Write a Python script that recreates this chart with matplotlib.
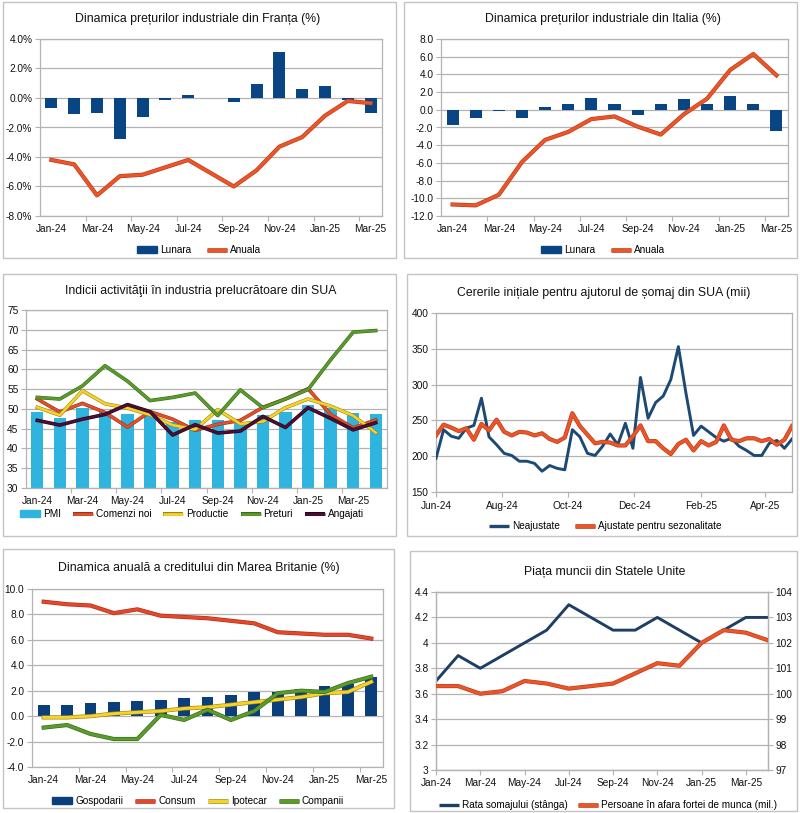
import matplotlib
matplotlib.use('Agg')
import matplotlib.pyplot as plt
import matplotlib.patheffects as pe
import matplotlib.dates as mdates
from matplotlib.patches import Rectangle, Patch
from matplotlib.lines import Line2D
from matplotlib.ticker import FixedLocator, FuncFormatter
import pandas as pd
import numpy as np

plt.rcParams['font.family'] = ['Liberation Sans', 'DejaVu Sans']

# ---------------- DATA ----------------
luni15 = ['Jan-24', 'Feb-24', 'Mar-24', 'Apr-24', 'May-24', 'Jun-24', 'Jul-24', 'Aug-24',
          'Sep-24', 'Oct-24', 'Nov-24', 'Dec-24', 'Jan-25', 'Feb-25', 'Mar-25']
luni16 = luni15 + ['Apr-25']

fr_lunara = [-0.7, -1.1, -1.0, -2.8, -1.3, -0.15, 0.2, 0.0, -0.25, 0.95, 3.1, 0.6, 0.8, -0.15, -1.05]
fr_anuala = [-4.2, -4.5, -6.6, -5.3, -5.2, -4.7, -4.2, -5.1, -6.0, -4.9, -3.3, -2.65, -1.2, -0.2, -0.35]

it_lunara = [-1.7, -0.95, -0.15, -0.9, 0.3, 0.7, 1.3, 0.7, -0.6, 0.7, 1.25, 0.6, 1.6, 0.7, -2.4]
it_anuala = [-10.7, -10.8, -9.6, -5.9, -3.4, -2.5, -1.05, -0.75, -1.9, -2.8, -0.5, 1.25, 4.5, 6.3, 3.9]

pmi = [49.1, 47.8, 50.3, 49.2, 48.7, 48.5, 46.8, 47.2, 47.2, 46.5, 48.4, 49.3, 50.9, 50.3, 49.0, 48.7]
comenzi = [52.5, 49.2, 51.4, 49.1, 45.4, 49.3, 47.4, 44.6, 46.1, 47.1, 50.4, 52.5, 55.1, 48.6, 45.2, 47.2]
productie = [50.4, 48.4, 54.6, 51.3, 50.2, 48.5, 45.9, 44.8, 49.8, 46.2, 46.8, 50.3, 52.5, 50.7, 48.3, 44.0]
preturi = [52.9, 52.5, 55.8, 60.9, 57.0, 52.1, 52.9, 54.0, 48.3, 54.8, 50.3, 52.5, 54.9, 62.4, 69.4, 69.8]
angajati = [47.1, 45.9, 47.4, 48.6, 51.1, 49.3, 43.4, 46.0, 43.9, 44.4, 48.1, 45.3, 50.3, 47.6, 44.7, 46.5]

claims_start = '2024-06-01'
neajustate = [197, 237, 228, 225, 239, 243, 281, 227, 216, 204, 201, 193, 193, 190, 179, 187,
              183, 181, 237, 227, 204, 201, 214, 231, 216, 246, 211, 310, 253, 275, 284, 307,
              353, 288, 229, 242, 234, 226, 221, 225, 214, 208, 201, 201, 218, 222, 211, 224]
ajustate = [229, 244, 240, 235, 239, 223, 245, 236, 251, 234, 229, 234, 233, 229, 232, 224,
            220, 226, 260, 242, 230, 218, 220, 219, 215, 215, 228, 243, 221, 221, 211, 203,
            217, 223, 208, 221, 215, 220, 243, 223, 221, 225, 225, 221, 224, 216, 223, 242]

uk_gospodarii = [0.9, 0.9, 1.0, 1.1, 1.2, 1.3, 1.4, 1.5, 1.7, 1.9, 1.9, 2.1, 2.4, 2.5, 3.1]
uk_consum = [9.0, 8.8, 8.7, 8.1, 8.4, 7.9, 7.8, 7.7, 7.5, 7.3, 6.6, 6.5, 6.4, 6.4, 6.1]
uk_ipotecar = [-0.1, -0.1, 0.0, 0.2, 0.3, 0.4, 0.6, 0.7, 0.9, 1.1, 1.3, 1.5, 1.8, 1.9, 2.7]
uk_companii = [-0.9, -0.7, -1.4, -1.8, -1.8, 0.1, -0.3, 0.5, -0.3, 0.4, 1.8, 2.0, 1.9, 2.6, 3.1]

somaj = [3.7, 3.9, 3.8, 3.9, 4.0, 4.1, 4.3, 4.2, 4.1, 4.1, 4.2, 4.1, 4.0, 4.1, 4.2, 4.2]
persoane = [100.3, 100.3, 100.0, 100.1, 100.5, 100.4, 100.2, 100.3, 100.4, 100.8, 101.2, 101.1,
            102.0, 102.5, 102.4, 102.1]

# ---------------- STYLE ----------------
W, H = 800, 813
fig = plt.figure(figsize=(8, 8.13), dpi=100)
GRID = '#b3b3b3'
NAVY = '#0a4583'
ORANGE = '#ec5529'
TICKFS = 7.3
TITLEFS = 8.8
LEGFS = 7.2


def ax_at(x0, y0, x1, y1):
    return fig.add_axes([x0 / W, 1 - y1 / H, (x1 - x0) / W, (y1 - y0) / H])


def panel(x0, y0, x1, y1):
    fig.patches.append(Rectangle((x0 / W, 1 - y1 / H), (x1 - x0) / W, (y1 - y0) / H,
                                 transform=fig.transFigure, fill=False,
                                 edgecolor='#c4c4c4', lw=1.0))


def title(x, y, s):
    fig.text(x / W, 1 - y / H, s, ha='center', va='center', fontsize=TITLEFS, color='#111111')


def style(ax):
    ax.set_facecolor('white')
    ax.grid(axis='y', color=GRID, lw=0.9)
    ax.set_axisbelow(True)
    for sp in ax.spines.values():
        sp.set_color(GRID)
        sp.set_linewidth(0.9)
    ax.tick_params(axis='both', which='both', colors=GRID, labelcolor='#111111',
                   labelsize=TICKFS, length=3.5, width=0.8, pad=2)


def cat_xaxis(ax, labels):
    n = len(labels)
    ax.set_xlim(-0.5, n - 0.5)
    pos = list(range(0, n, 2))
    ax.xaxis.set_major_locator(FixedLocator(pos))
    ax.set_xticklabels([labels[i] for i in pos])
    ax.tick_params(axis='x', which='major', length=0, pad=6)
    ax.xaxis.set_minor_locator(FixedLocator([p + 1.5 for p in pos if p + 1.5 < n - 0.5]))
    ax.tick_params(axis='x', which='minor', length=3.5)


def stroke(dark, lw, extra=0.9):
    return [pe.Stroke(linewidth=lw + extra, foreground=dark), pe.Normal()]


def legend(handles, labels, x, y, spacing=1.5):
    fig.legend(handles, labels, loc='center', bbox_to_anchor=(x / W, 1 - y / H),
               ncol=len(handles), frameon=False, fontsize=LEGFS, handlelength=2.0,
               handletextpad=0.3, columnspacing=spacing, borderaxespad=0, borderpad=0)


def line_h(color, dark=None, lw=2.4):
    h = Line2D([], [], color=color, lw=lw, solid_capstyle='butt')
    if dark:
        h.set_path_effects(stroke(dark, lw))
    return h


LW = 2.1

# ---------------- Panel 1: France ----------------
panel(3, 2, 396, 258)
title(198, 19, 'Dinamica prețurilor industriale din Franța (%)')
ax = ax_at(40, 39, 382, 216)
style(ax)
x = np.arange(len(luni15))
ax.bar(x, fr_lunara, width=0.52, color=NAVY, zorder=2)
ax.plot(x, fr_anuala, color=ORANGE, lw=LW, zorder=3, path_effects=stroke('#b83c18', LW))
ax.set_ylim(-8, 4)
ax.set_yticks(np.arange(-8, 4.01, 2))
ax.yaxis.set_major_formatter(FuncFormatter(lambda v, p: f'{v:.1f}%'))
cat_xaxis(ax, luni15)
legend([Patch(color=NAVY), line_h(ORANGE, '#b83c18')], ['Lunara', 'Anuala'], 199, 250)

# ---------------- Panel 2: Italy ----------------
panel(404, 2, 797, 258)
title(603, 19, 'Dinamica prețurilor industriale din Italia (%)')
ax = ax_at(441, 39, 788, 216)
style(ax)
ax.bar(x, it_lunara, width=0.52, color=NAVY, zorder=2)
ax.plot(x, it_anuala, color=ORANGE, lw=LW, zorder=3, path_effects=stroke('#b83c18', LW))
ax.set_ylim(-12, 8)
ax.set_yticks(np.arange(-12, 8.01, 2))
ax.yaxis.set_major_formatter(FuncFormatter(lambda v, p: f'{v:.1f}'))
cat_xaxis(ax, luni15)
legend([Patch(color=NAVY), line_h(ORANGE, '#b83c18')], ['Lunara', 'Anuala'], 603, 250)

# ---------------- Panel 3: SUA PMI ----------------
panel(3, 274, 396, 536)
title(201, 291, 'Indicii activităţii în industria prelucrătoare din SUA')
ax = ax_at(26, 310, 387, 488)
style(ax)
x16 = np.arange(len(luni16))
BLUE = '#2fb3df'
ax.bar(x16, pmi, width=0.55, color=BLUE, zorder=2)
series = [
    (comenzi, '#e0502a', '#9c3318'),
    (productie, '#f6d32a', '#9d8412'),
    (preturi, '#5b9b2c', '#3a6a17'),
    (angajati, '#4a0f33', '#2a0519'),
]
for vals, col, dark in series:
    ax.plot(x16, vals, color=col, lw=1.8, zorder=3, path_effects=stroke(dark, 1.8, 0.8))
ax.set_ylim(30, 75)
ax.set_yticks(np.arange(30, 75.1, 5))
ax.yaxis.set_major_formatter(FuncFormatter(lambda v, p: f'{v:.0f}'))
cat_xaxis(ax, luni16)
legend([Patch(color=BLUE)] + [line_h(c, d, 2.0) for _, c, d in series],
       ['PMI', 'Comenzi noi', 'Productie', 'Preturi', 'Angajati'], 192, 514, spacing=1.2)

# ---------------- Panel 4: Claims ----------------
panel(407, 274, 797, 536)
title(604, 293, 'Cererile inițiale pentru ajutorul de șomaj din SUA (mii)')
ax = ax_at(436, 313, 792, 492)
style(ax)
dates = pd.date_range(claims_start, periods=len(neajustate), freq='7D')
CBLUE = '#1d4a73'
ax.plot(dates, neajustate, color=CBLUE, lw=LW, zorder=3)
ax.plot(dates, ajustate, color=ORANGE, lw=LW, zorder=3, path_effects=stroke('#b83c18', LW))
ax.set_ylim(150, 400)
ax.set_yticks(np.arange(150, 401, 50))
ax.set_xlim(dates[0], dates[-1])
ax.xaxis.set_major_locator(mdates.MonthLocator(bymonth=[2, 4, 6, 8, 10, 12]))
ax.xaxis.set_major_formatter(mdates.DateFormatter('%b-%y'))
ax.tick_params(axis='x', pad=3)
legend([line_h(CBLUE), line_h(ORANGE, '#b83c18')],
       ['Neajustate', 'Ajustate pentru sezonalitate'], 605, 526)

# ---------------- Panel 5: UK ----------------
panel(3, 549, 394, 808)
title(199, 568, 'Dinamica anuală a creditului din Marea Britanie (%)')
ax = ax_at(32, 589, 383, 767)
style(ax)
UKNAVY = '#0b3f7c'
ax.bar(x, uk_gospodarii, width=0.51, color=UKNAVY, zorder=2)
uk_series = [
    (uk_consum, '#e4472a', '#a9301a'),
    (uk_ipotecar, '#f6d32a', '#9d8412'),
    (uk_companii, '#5b9b2c', '#3a6a17'),
]
for vals, col, dark in uk_series:
    ax.plot(x, vals, color=col, lw=LW, zorder=3, path_effects=stroke(dark, LW))
ax.set_ylim(-4, 10)
ax.set_yticks(np.arange(-4, 10.01, 2))
ax.yaxis.set_major_formatter(FuncFormatter(lambda v, p: f'{v:.1f}'))
cat_xaxis(ax, luni15)
legend([Patch(color=UKNAVY)] + [line_h(c, d) for _, c, d in uk_series],
       ['Gospodarii', 'Consum', 'Ipotecar', 'Companii'], 198, 801, spacing=1.2)

# ---------------- Panel 6: Labor market ----------------
panel(410, 551, 797, 811)
title(605, 572, 'Piața muncii din Statele Unite')
ax = ax_at(436, 592, 768, 770)
style(ax)
LNAVY = '#1f3e64'
ax.plot(x16, somaj, color=LNAVY, lw=LW, zorder=3)
ax.set_ylim(3.0, 4.4)
ax.set_yticks(np.arange(3.0, 4.41, 0.2))
ax.yaxis.set_major_formatter(FuncFormatter(lambda v, p: f'{v:g}' if abs(v - round(v)) > 1e-9 else f'{v:.0f}'))
ax.set_xlim(0, len(luni16) - 1)
pos = list(range(0, len(luni16), 2))
ax.set_xticks(pos)
ax.set_xticklabels([luni16[i] for i in pos])
ax2 = ax.twinx()
ax2.plot(x16, persoane, color=ORANGE, lw=LW, zorder=3, path_effects=stroke('#b83c18', LW))
ax2.set_ylim(97, 104)
ax2.set_yticks(np.arange(97, 104.1, 1))
for sp in ax2.spines.values():
    sp.set_color(GRID)
    sp.set_linewidth(0.9)
ax2.tick_params(axis='y', colors=GRID, labelcolor='#111111', labelsize=TICKFS, length=3.5,
                width=0.8, pad=2)
legend([line_h(LNAVY), line_h(ORANGE, '#b83c18')],
       ['Rata somajului (stânga)', 'Persoane în afara fortei de munca (mil.)'], 608, 805, spacing=1.0)

fig.savefig('out.png', dpi=100, facecolor='white')
